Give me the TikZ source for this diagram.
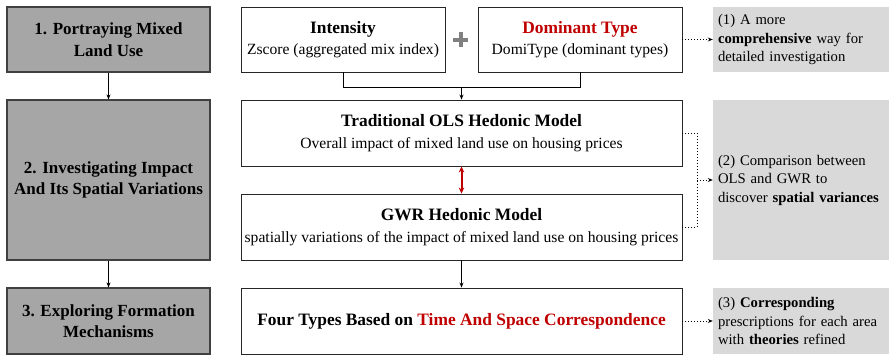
\documentclass[tikz,border=0pt]{standalone}
\usepackage{fontspec}
\setmainfont{Liberation Serif}
\usetikzlibrary{arrows.meta,positioning,calc}
\definecolor{stagegray}{HTML}{A6A6A6}
\definecolor{notegray}{HTML}{D9D9D9}
\definecolor{keyred}{HTML}{C00000}

\tikzset{
  stage/.style={draw=black!75, line width=1.2pt, fill=stagegray, inner sep=0pt,
    minimum width=203pt, align=center, font=\fontsize{17}{21.5}\selectfont\bfseries},
  model/.style={draw=black!85, line width=0.9pt, fill=white, inner sep=0pt,
    align=center, font=\fontsize{15.6}{21.5}\selectfont},
  note/.style={fill=notegray, inner xsep=5pt, inner ysep=0pt, text width=166pt,
    minimum width=176pt, align=left, font=\fontsize{14.7}{18.5}\selectfont},
  flow/.style={line width=0.8pt, -{Stealth[length=5pt,width=4pt]}},
  hint/.style={dotted, line width=1pt, -{Stealth[length=5pt,width=4pt]}}
}
\newcommand{\hd}[1]{{\fontsize{17.4}{21.5}\selectfont\bfseries #1}}

\begin{document}
\begin{tikzpicture}[x=1pt,y=-1pt]
\useasboundingbox (0,0) rectangle (889,356);

% left column: the three stages
\node[stage, minimum height=65pt]  (s1) at (108.5,39.5) {1. Portraying Mixed\\Land Use};
\node[stage, minimum height=160pt] (s2) at (108.5,180)  {2. Investigating Impact\\And Its Spatial Variations};
\node[stage, minimum height=66pt]  (s3) at (108.5,321)  {3. Exploring Formation\\Mechanisms};
\draw[flow] (s1) -- (s2);
\draw[flow] (s2) -- (s3);

% middle column: methods
\node[model, minimum width=204pt, minimum height=65pt] (int) at (343,39.5)
  {\hd{Intensity}\\Zscore (aggregated mix index)};
\node[model, minimum width=204pt, minimum height=65pt] (dom) at (580,39.5)
  {\hd{\color{keyred}Dominant Type}\\DomiType (dominant types)};
\node[model, minimum width=441pt, minimum height=66pt] (ols) at (461.5,133)
  {\hd{Traditional OLS Hedonic Model}\\Overall impact of mixed land use on housing prices};
\node[model, minimum width=441pt, minimum height=66pt] (gwr) at (461.5,227)
  {\hd{GWR Hedonic Model}\\spatially variations of the impact of mixed land use on housing prices};
\node[model, minimum width=441pt, minimum height=66pt] (four) at (461.5,321)
  {\hd{Four Types Based on \color{keyred}Time And Space Correspondence}};

% plus sign
\draw[black!50, line width=4pt] (453,39.5) -- (468,39.5) (460.5,32) -- (460.5,47);

\draw[line width=0.8pt] (int.south) -- ++(0,15) -| (dom.south);
\coordinate (join) at ($(int.south)!0.5!(dom.south)+(0,15)$);
\draw[flow] (join) -- (ols.north);
\draw[keyred, line width=2pt, {Stealth[length=6pt,width=5.5pt]}-{Stealth[length=6pt,width=5.5pt]}] (ols.south) -- (gwr.south |- gwr.north);
\draw[flow] (gwr.south) -- (four.north);

% right column: findings
\node[note, minimum height=65pt]  (n1) at (801,39.5) {(1) A more\\\textbf{comprehensive} way for\\detailed investigation};
\node[note, minimum height=160pt] (n2) at (801,180)  {(2) Comparison between\\OLS and GWR to\\discover \textbf{spatial variances}};
\node[note, minimum height=66pt]  (n3) at (801,321)  {(3) \textbf{Corresponding}\\prescriptions for each area\\with \textbf{theories} refined};

\draw[hint] (dom.east) -- (n1.west);
\coordinate (bend) at ($(ols.east)+(15,0)$);
\draw[dotted, line width=1pt] (ols.east) -- (bend) |- (gwr.east);
\draw[hint] (bend |- n2.west) -- (n2.west);
\draw[hint] (four.east) -- (n3.west);
\end{tikzpicture}
\end{document}
